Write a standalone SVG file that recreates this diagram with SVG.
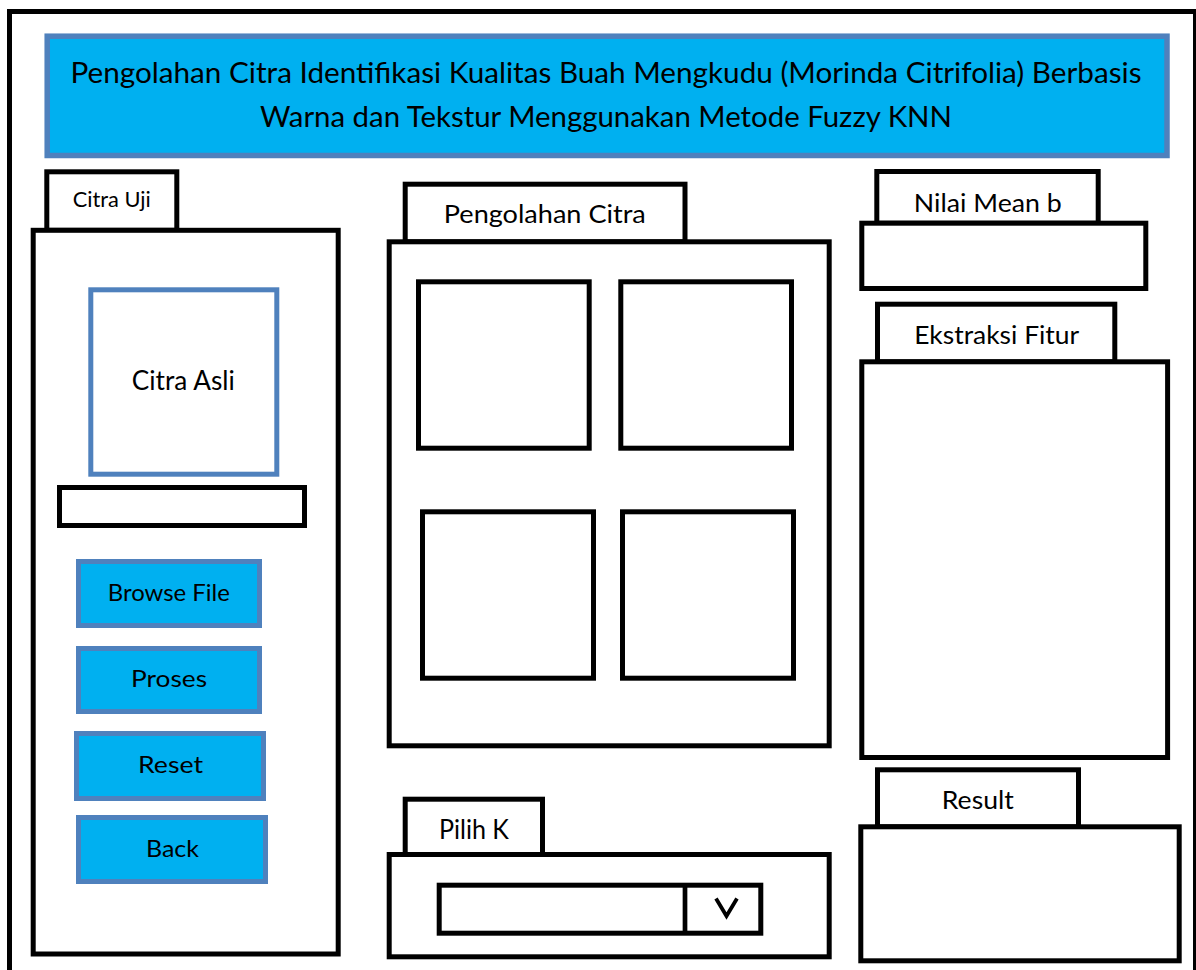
<svg xmlns="http://www.w3.org/2000/svg" width="1196" height="970" viewBox="0 0 1196 970">
  <style>
    .frame { fill: #ffffff; stroke: #000000; stroke-width: 5; }
    .box { fill: #ffffff; stroke: #000000; stroke-width: 5; }
    .btn { fill: #00B0F0; stroke: #4F81BD; stroke-width: 5; }
    .pic { fill: #ffffff; stroke: #4F81BD; stroke-width: 5; }
    .t { font-family: Lato, "Open Sans", "Liberation Sans", sans-serif; fill: #000000; text-anchor: middle; }
  </style>
  <rect width="1196" height="970" fill="#ffffff"/>
  <g id="frame">
    <rect class="frame" x="9.5" y="11.5" width="1186" height="975"/>
  </g>
  <g id="title">
    <rect x="47.2" y="36.2" width="1119.8" height="119.3" fill="#00B0F0" stroke="#4F81BD" stroke-width="5.5"/>
    <text class="t" x="606" y="82.5" font-size="28" textLength="1071" lengthAdjust="spacingAndGlyphs">Pengolahan Citra Identifikasi Kualitas Buah Mengkudu (Morinda Citrifolia) Berbasis</text>
    <text class="t" x="606" y="126.7" font-size="28" textLength="692" lengthAdjust="spacingAndGlyphs">Warna dan Tekstur Menggunakan Metode Fuzzy KNN</text>
  </g>
  <g id="citra-uji">
    <rect class="box" x="46.8" y="171.8" width="130" height="58.5"/>
    <rect class="box" x="33.2" y="230.3" width="305" height="723.7"/>
    <text class="t" x="111.7" y="207.3" font-size="20.5" textLength="78" lengthAdjust="spacingAndGlyphs">Citra Uji</text>
  </g>
  <g id="citra-asli">
    <rect class="pic" x="90.8" y="289.8" width="186" height="184.4"/>
    <text class="t" x="183.3" y="390" font-size="27" textLength="103" lengthAdjust="spacingAndGlyphs">Citra Asli</text>
  </g>
  <g id="file-field">
    <rect class="box" x="59.5" y="487.5" width="245" height="38"/>
  </g>
  <g id="btn-browse">
    <rect class="btn" x="78.5" y="561.5" width="181" height="64"/>
    <text class="t" x="168.8" y="600.7" font-size="24" textLength="122" lengthAdjust="spacingAndGlyphs">Browse File</text>
  </g>
  <g id="btn-proses">
    <rect class="btn" x="78.5" y="648.5" width="181" height="63"/>
    <text class="t" x="169" y="687" font-size="24" textLength="76" lengthAdjust="spacingAndGlyphs">Proses</text>
  </g>
  <g id="btn-reset">
    <rect class="btn" x="76.5" y="733.5" width="187" height="65"/>
    <text class="t" x="170.5" y="773.3" font-size="24" textLength="65" lengthAdjust="spacingAndGlyphs">Reset</text>
  </g>
  <g id="btn-back">
    <rect class="btn" x="78.5" y="817.5" width="187" height="64"/>
    <text class="t" x="172.5" y="857.3" font-size="24" textLength="53" lengthAdjust="spacingAndGlyphs">Back</text>
  </g>
  <g id="pengolahan-citra">
    <rect class="box" x="405.2" y="184.2" width="279.8" height="57.6"/>
    <rect class="box" x="389.2" y="241.8" width="440" height="504"/>
    <text class="t" x="544.8" y="223.3" font-size="25" textLength="202" lengthAdjust="spacingAndGlyphs">Pengolahan Citra</text>
    <rect class="box" x="418.5" y="281.8" width="170.7" height="166.4"/>
    <rect class="box" x="620.8" y="281.8" width="170.7" height="166.4"/>
    <rect class="box" x="422.5" y="511.8" width="171" height="166.4"/>
    <rect class="box" x="622.5" y="511.8" width="171" height="166.4"/>
  </g>
  <g id="pilih-k">
    <rect class="box" x="405.2" y="799.2" width="137.3" height="55.3"/>
    <rect class="box" x="389.2" y="854.5" width="440" height="102.3"/>
    <text class="t" x="474" y="839" font-size="26" textLength="70" lengthAdjust="spacingAndGlyphs">Pilih K</text>
    <rect class="box" x="439.2" y="885.2" width="321.6" height="48"/>
    <line x1="685" y1="885.2" x2="685" y2="933.2" stroke="#000000" stroke-width="4.7"/>
    <polyline points="716,898.5 726.5,916 737,898.5" fill="none" stroke="#000000" stroke-width="3.8" stroke-linejoin="miter"/>
  </g>
  <g id="nilai-mean-b">
    <rect class="box" x="876.8" y="171.5" width="221.4" height="51.7"/>
    <rect class="box" x="861.8" y="223.2" width="284" height="65.3"/>
    <text class="t" x="987.8" y="211.7" font-size="25.5" textLength="148" lengthAdjust="spacingAndGlyphs">Nilai Mean b</text>
  </g>
  <g id="ekstraksi-fitur">
    <rect class="box" x="877.5" y="304.2" width="237.3" height="57.6"/>
    <rect class="box" x="861.8" y="361.8" width="305.8" height="395.7"/>
    <text class="t" x="996.7" y="344.3" font-size="25.5" textLength="165" lengthAdjust="spacingAndGlyphs">Ekstraksi Fitur</text>
  </g>
  <g id="result">
    <rect class="box" x="877.5" y="769.8" width="201" height="57"/>
    <rect class="box" x="860.8" y="826.8" width="318.4" height="134"/>
    <text class="t" x="977.8" y="809.3" font-size="25.5" textLength="72" lengthAdjust="spacingAndGlyphs">Result</text>
  </g>
</svg>
